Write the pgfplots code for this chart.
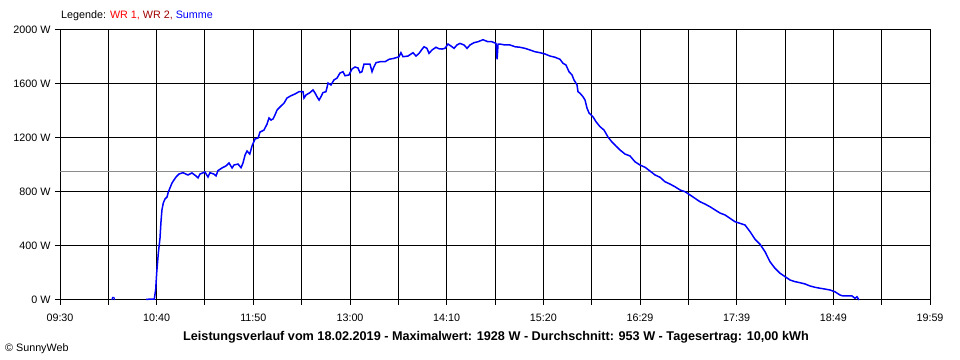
\documentclass[border=0pt]{standalone}
\usepackage{pgfplots}
\pgfplotsset{compat=1.18}
\usepackage{fontspec}
\setmainfont{Liberation Sans}
\definecolor{wrone}{RGB}{255,0,0}
\definecolor{wrtwo}{RGB}{160,0,0}
\definecolor{summe}{RGB}{0,0,255}
\begin{document}
\begin{tikzpicture}
\path[use as bounding box] (0bp,0bp) rectangle (960bp,360bp);
\begin{axis}[
  at={(60bp,60bp)}, anchor=south west,
  scale only axis, width=870bp, height=270bp,
  xmin=570, xmax=1199, ymin=0, ymax=2000,
  xtick={570,604.94,639.89,674.83,709.78,744.72,779.67,814.61,849.56,884.5,919.44,954.39,989.33,1024.28,1059.22,1094.17,1129.11,1164.06,1199},
  xticklabels={09:30,,10:40,,11:50,,13:00,,14:10,,15:20,,16:29,,17:39,,18:49,,19:59},
  ytick={0,400,800,1200,1600,2000},
  yticklabels={0 W,400 W,800 W,1200 W,1600 W,2000 W},
  xmajorgrids, ymajorgrids,
  major grid style={black, line width=1bp},
  axis line style={black, line width=1bp},
  tick style={black, line width=1bp},
  tick align=outside,
  major tick length=5bp,
  xtick pos=bottom, ytick pos=left,
  ticklabel style={font=\fontsize{10.8}{12}\selectfont},
  xticklabel style={yshift=-5bp},
  yticklabel style={xshift=-1bp},
  /pgf/number format/assume math mode=true,
  clip=false,
]
\addplot[gray!90, line width=1bp] coordinates {(570,953)(1199,953)};
\addplot[summe, line width=1.2bp] coordinates {(607.5,0)(608,18)(609,18)(609.5,0)};
\addplot[summe, line width=1.5bp] coordinates {
(632.2,5)(638.2,7)(639.2,80)(639.9,200)(641.1,348)(642.3,459)(643.0,578)(643.7,667)(644.7,719)(645.9,748)(647.4,763)(648.3,800)(649.5,830)(651.0,867)(652.4,889)(653.9,911)(656.0,933)(658.9,943)(662.5,926)(665.4,941)(668.3,919)(669.8,904)(671.2,933)(674.8,948)(677.0,911)(678.4,943)(681.3,933)(682.8,919)(684.2,958)(687.1,978)(690.0,993)(692.2,1015)(694.4,978)(695.8,1000)(698.7,1007)(700.9,980)(702.3,1015)(703.8,1074)(705.2,1104)(707.2,1081)(708.8,1140)(711.0,1193)(713.2,1200)(714.6,1244)(717.5,1259)(719.7,1304)(721.1,1348)(722.6,1333)(724.0,1341)(725.4,1370)(726.9,1407)(729.1,1430)(732.0,1459)(734.1,1496)(737.0,1513)(739.9,1526)(742.8,1543)(745.7,1543)(746.4,1496)(747.9,1519)(750.7,1536)(752.9,1556)(754.4,1533)(755.8,1506)(757.3,1481)(758.7,1506)(760.1,1536)(762.3,1543)(763.8,1607)(765.9,1593)(768.1,1630)(770.3,1644)(772.4,1681)(774.6,1691)(776.1,1661)(778.9,1667)(781.1,1711)(783.3,1726)(785.4,1719)(786.9,1684)(788.3,1691)(789.8,1748)(792.0,1748)(794.1,1748)(795.6,1691)(797.0,1728)(798.5,1758)(801.4,1765)(805.0,1765)(807.9,1783)(811.5,1790)(815.1,1802)(816.5,1832)(818.0,1802)(821.6,1807)(825.2,1832)(827.4,1807)(829.6,1827)(831.7,1857)(833.2,1876)(835.3,1864)(836.8,1827)(839.0,1852)(841.8,1872)(844.0,1861)(846.2,1859)(848.3,1864)(850.5,1896)(852.7,1881)(854.9,1864)(857.0,1889)(859.2,1901)(862.1,1889)(864.3,1864)(866.4,1889)(869.3,1906)(872.2,1913)(875.8,1928)(879.4,1913)(882.3,1913)(885.2,1901)(886.0,1783)(886.7,1895)(888.1,1896)(891.7,1889)(895.3,1889)(899.0,1876)(902.6,1872)(906.2,1864)(909.8,1852)(913.4,1839)(917.0,1832)(920.7,1822)(924.3,1807)(927.9,1798)(931.5,1783)(933.7,1753)(935.8,1741)(938.0,1691)(940.2,1667)(941.6,1630)(943.8,1593)(944.5,1543)(946.0,1531)(948.1,1506)(949.6,1481)(951.0,1422)(952.5,1385)(955.4,1356)(957.5,1321)(960.4,1284)(963.3,1259)(966.2,1207)(969.1,1170)(972.0,1140)(974.9,1111)(978.5,1081)(982.1,1067)(985.7,1024)(989.3,1000)(993.0,983)(996.6,955)(1000.2,926)(1003.8,909)(1007.4,876)(1011.0,859)(1014.6,839)(1018.3,815)(1021.9,802)(1025.5,778)(1029.1,753)(1032.7,728)(1036.3,711)(1039.9,691)(1043.6,667)(1047.2,644)(1050.8,630)(1054.4,605)(1058.0,580)(1061.6,568)(1065.2,556)(1068.9,506)(1072.5,450)(1076.1,413)(1079.7,358)(1083.3,284)(1086.9,235)(1090.6,198)(1094.2,173)(1097.8,148)(1101.4,136)(1105.0,128)(1108.6,119)(1112.2,104)(1115.9,94)(1119.5,87)(1123.1,81)(1126.7,74)(1130.3,61)(1133.9,37)(1136.1,30)(1139.7,30)(1142.6,30)(1144.8,13)(1146.2,24)(1147.7,0)
};
\end{axis}
\node[anchor=west, inner sep=0pt, font=\fontsize{10.8}{12}\selectfont] at (61bp,344bp) {Legende: \textcolor{wrone}{WR 1,} \textcolor{wrtwo}{WR 2,} \textcolor{summe}{Summe}};
\node[anchor=center, inner sep=0pt, font=\fontsize{12.7}{14}\selectfont\bfseries] at (496bp,23bp) {Leistungsverlauf vom 18.02.2019 - Maximalwert: 1928 W - Durchschnitt: 953 W - Tagesertrag: 10,00 kWh};
\node[anchor=west, inner sep=0pt, font=\fontsize{10.8}{12}\selectfont] at (5bp,11bp) {© SunnyWeb};
\end{tikzpicture}
\end{document}
